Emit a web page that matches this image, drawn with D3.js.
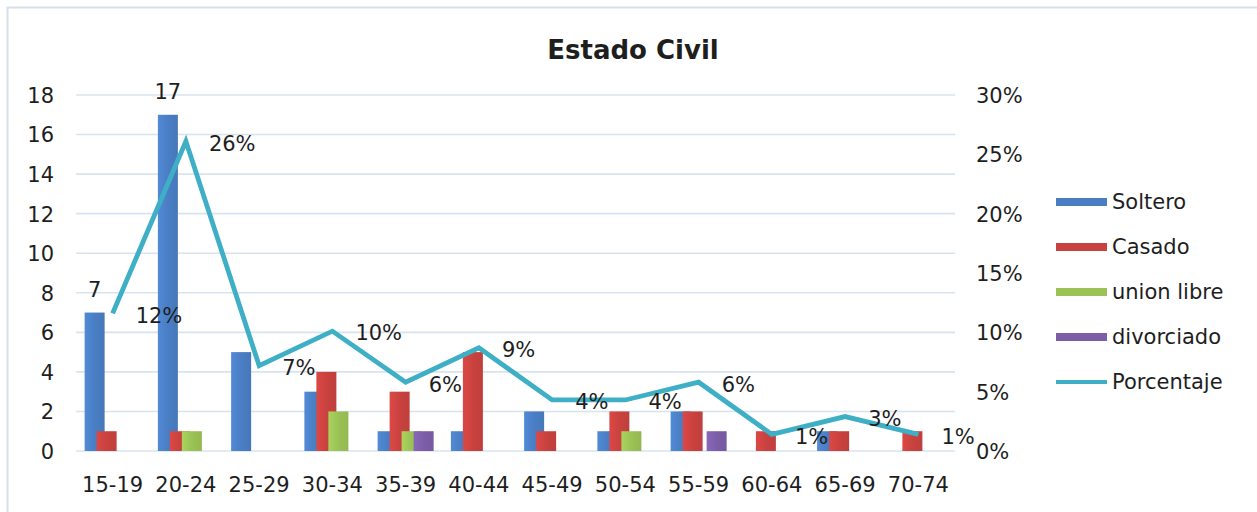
<!DOCTYPE html>
<html><head><meta charset="utf-8">
<script src="https://cdn.jsdelivr.net/npm/d3@7"></script>
<style>body{margin:0;background:#fff;} svg{display:block;} text{font-family:"DejaVu Sans",Verdana,sans-serif;fill:#1e1e1e;}</style>
</head><body>
<script>
const categories = ["15-19","20-24","25-29","30-34","35-39","40-44","45-49","50-54","55-59","60-64","65-69","70-74"];
const soltero    = [7,17,5,3,1,1,2,1,2,0,1,0];
const casado     = [1,1,0,4,3,5,1,2,2,1,1,1];
const unionLibre = [0,1,0,2,1,0,0,1,0,0,0,0];
const divorciado = [0,0,0,0,1,0,0,0,1,0,0,0];
const porcentaje = [0.116,0.261,0.072,0.101,0.058,0.087,0.043,0.043,0.058,0.014,0.029,0.014];
const porcentajeLabels = ["12%","26%","7%","10%","6%","9%","4%","4%","6%","1%","3%","1%"];
const solteroLabels = ["7","17","","","","","","","","","",""];
const seriesNames = ["Soltero","Casado","union libre","divorciado"];
const lineName = "Porcentaje";
const leftTicks = [0,2,4,6,8,10,12,14,16,18];
const rightTicks = [0,0.05,0.10,0.15,0.20,0.25,0.30];
const chartTitle = "Estado Civil";

const colors = ["#4a7ec4","#c9423f","#9bc255","#7c5ea8"];
const lineColor = "#3fafc6";

const W = 1257, H = 512;
const svg = d3.select("body").append("svg").attr("width", W).attr("height", H);

const defs = svg.append("defs");
colors.forEach((c, i) => {
  const g = defs.append("linearGradient").attr("id", "g" + i).attr("x1", "0").attr("x2", "1").attr("y1", "0").attr("y2", "0");
  g.append("stop").attr("offset", "0").attr("stop-color", d3.color(c).brighter(0.25));
  g.append("stop").attr("offset", "0.5").attr("stop-color", c);
  g.append("stop").attr("offset", "1").attr("stop-color", d3.color(c).darker(0.15));
});

svg.append("rect").attr("x", 7.5).attr("y", 7.5).attr("width", 1300).attr("height", 600)
  .attr("fill", "none").attr("stroke", "#d6dfeb").attr("stroke-width", 2);

const plotL = 76, plotR = 955, plotT = 95, plotB = 451;
const x = d3.scaleBand().domain(categories).range([plotL, plotR]).padding(0);
const y = d3.scaleLinear().domain([0, 18]).range([plotB, plotT]);
const y2 = d3.scaleLinear().domain([0, 0.30]).range([plotB, plotT]);

svg.append("g").selectAll("line").data(leftTicks).join("line")
  .attr("x1", plotL).attr("x2", plotR)
  .attr("y1", d => y(d)).attr("y2", d => y(d))
  .attr("stroke", "#d8e3f0").attr("stroke-width", 1.6);

const fs = "21px";
const yAxis = d3.axisLeft(y).tickValues(leftTicks).tickSize(0).tickPadding(0);
const gl = svg.append("g").attr("transform", `translate(54,0)`).call(yAxis);
gl.select(".domain").remove();
gl.selectAll("text").style("font-size", fs).attr("fill", "#1e1e1e").attr("dy", "0.35em");

const y2Axis = d3.axisRight(y2).tickValues(rightTicks).tickSize(0).tickPadding(0).tickFormat(d3.format(".0%"));
const gr = svg.append("g").attr("transform", `translate(976,0)`).call(y2Axis);
gr.select(".domain").remove();
gr.selectAll("text").style("font-size", fs).attr("fill", "#1e1e1e").attr("dy", "0.35em");

const xAxis = d3.axisBottom(x).tickSize(0).tickPadding(0);
const gx = svg.append("g").attr("transform", `translate(0,485)`).call(xAxis);
gx.select(".domain").remove();
gx.selectAll("text").style("font-size", fs).attr("fill", "#1e1e1e").attr("dy", "0.35em");

const allSeries = [soltero, casado, unionLibre, divorciado];
const barW = 20, step = 12;
const groupW = barW + step * 3;
allSeries.forEach((vals, si) => {
  svg.append("g").selectAll("rect").data(vals.map((v, i) => ({v, c: categories[i]}))).join("rect")
    .attr("x", d => x(d.c) + (x.bandwidth() - groupW) / 2 + si * step)
    .attr("width", barW)
    .attr("y", d => y(d.v))
    .attr("height", d => y(0) - y(d.v))
    .attr("fill", `url(#g${si})`);
});

svg.append("g").selectAll("text").data(soltero.map((v, i) => ({v, c: categories[i], t: solteroLabels[i]})))
  .join("text")
  .attr("x", d => x(d.c) + (x.bandwidth() - groupW) / 2 + barW / 2)
  .attr("y", d => y(d.v) - 16)
  .attr("text-anchor", "middle")
  .style("font-size", fs)
  .text(d => d.t);

const line = d3.line().x((d, i) => x(categories[i]) + x.bandwidth() / 2).y(d => y2(d));
svg.append("path").datum(porcentaje).attr("d", line)
  .attr("fill", "none").attr("stroke", lineColor).attr("stroke-width", 4.8).attr("stroke-linejoin", "miter");

svg.append("g").selectAll("text").data(porcentaje).join("text")
  .attr("x", (d, i) => x(categories[i]) + x.bandwidth() / 2 + 23)
  .attr("y", d => y2(d) + 2)
  .attr("dy", "0.35em")
  .style("font-size", fs)
  .text((d, i) => porcentajeLabels[i]);

svg.append("text").attr("x", 633).attr("y", 50).attr("dy", "0.35em").attr("text-anchor", "middle")
  .style("font-size", "26px").style("font-weight", "bold").text(chartTitle);

const legendY = [202, 247, 292, 337, 382];
const lg = svg.append("g");
seriesNames.forEach((n, i) => {
  lg.append("rect").attr("x", 1056).attr("y", legendY[i] - 4).attr("width", 51).attr("height", 8).attr("fill", colors[i]);
  lg.append("text").attr("x", 1112).attr("y", legendY[i]).attr("dy", "0.35em").style("font-size", fs).text(n);
});
lg.append("line").attr("x1", 1056).attr("x2", 1107).attr("y1", legendY[4]).attr("y2", legendY[4])
  .attr("stroke", lineColor).attr("stroke-width", 4);
lg.append("text").attr("x", 1112).attr("y", legendY[4]).attr("dy", "0.35em").style("font-size", fs).text(lineName);
</script>
</body></html>
